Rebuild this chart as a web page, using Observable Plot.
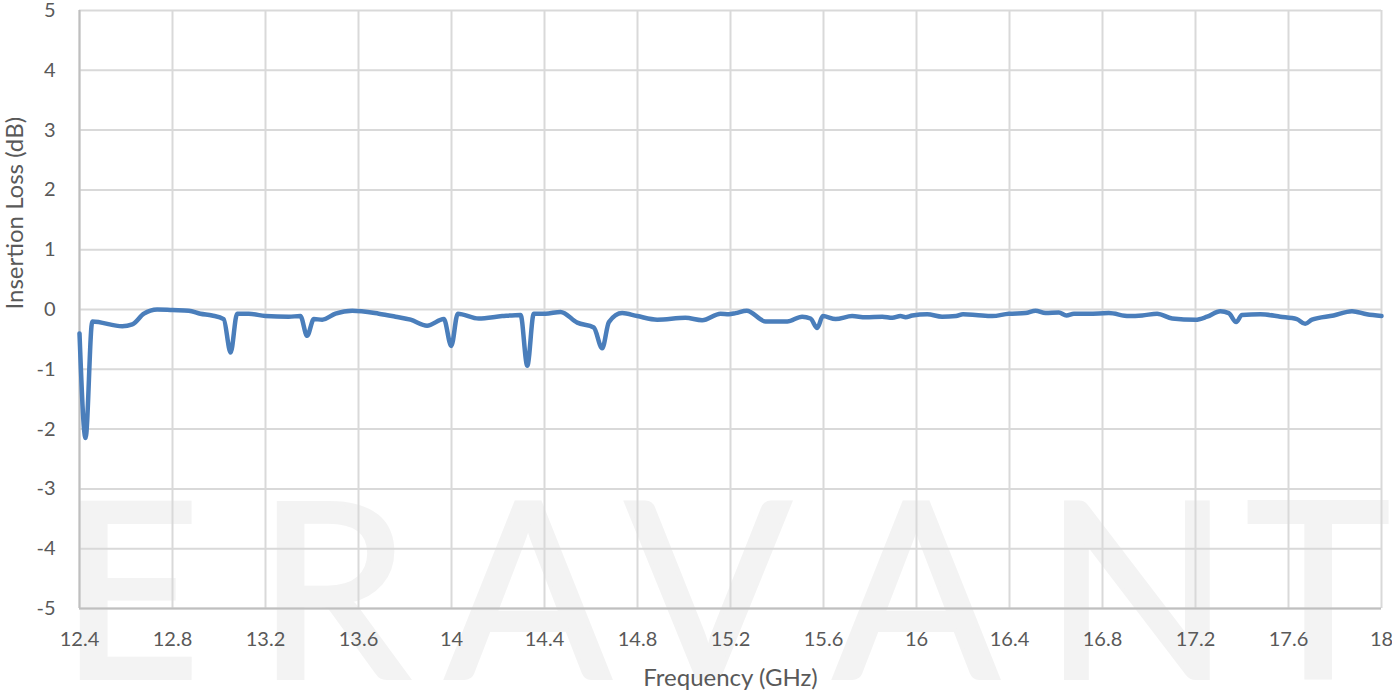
<!DOCTYPE html>
<html>
<head>
<meta charset="utf-8">
<script src="https://cdn.jsdelivr.net/npm/d3@7"></script>
<script src="https://cdn.jsdelivr.net/npm/@observablehq/plot@0.6"></script>
<style>
  html, body { margin: 0; padding: 0; background: #ffffff; }
  #chart { width: 1392px; height: 692px; }
</style>
</head>
<body>
<div id="chart"></div>
<script>
// Frequency (GHz)
const freq = [12.40, 12.426, 12.455, 12.584, 12.627, 12.677, 12.734, 12.80, 12.87, 12.92, 12.97, 13.02, 13.05, 13.078, 13.128,
  13.20, 13.30, 13.35, 13.379, 13.408, 13.444, 13.501, 13.573, 13.687, 13.759, 13.824, 13.895, 13.967, 13.999, 14.027,
  14.117, 14.218, 14.297, 14.326, 14.354, 14.404, 14.469, 14.541, 14.612, 14.648, 14.677, 14.734, 14.799, 14.885, 15.006,
  15.078, 15.157, 15.193, 15.222, 15.27, 15.351, 15.444, 15.508, 15.544, 15.573, 15.597, 15.652, 15.723, 15.781, 15.853,
  15.896, 15.931, 15.953, 15.982, 16.046, 16.11, 16.17, 16.20, 16.254, 16.326, 16.397, 16.469, 16.512, 16.555, 16.612,
  16.645, 16.677, 16.741, 16.827, 16.913, 16.971, 17.035, 17.10, 17.20, 17.25, 17.307, 17.343, 17.375, 17.40, 17.479,
  17.565, 17.636, 17.672, 17.701, 17.794, 17.873, 17.937, 18.00];
// Insertion Loss (dB)
const loss = [-0.40, -2.15, -0.20, -0.28, -0.25, -0.07, 0.00, -0.01, -0.02, -0.07, -0.10, -0.16, -0.72, -0.07, -0.07,
  -0.11, -0.12, -0.11, -0.44, -0.16, -0.17, -0.07, -0.02, -0.07, -0.12, -0.17, -0.27, -0.16, -0.61, -0.07,
  -0.15, -0.11, -0.09, -0.94, -0.07, -0.07, -0.04, -0.22, -0.30, -0.65, -0.21, -0.06, -0.11, -0.17, -0.14,
  -0.18, -0.07, -0.08, -0.06, -0.02, -0.20, -0.20, -0.12, -0.15, -0.31, -0.11, -0.16, -0.11, -0.13, -0.12,
  -0.14, -0.11, -0.13, -0.10, -0.08, -0.12, -0.11, -0.08, -0.09, -0.11, -0.07, -0.06, -0.02, -0.06, -0.05,
  -0.10, -0.07, -0.07, -0.06, -0.11, -0.10, -0.07, -0.15, -0.17, -0.12, -0.03, -0.06, -0.21, -0.09, -0.08,
  -0.12, -0.16, -0.24, -0.17, -0.10, -0.03, -0.08, -0.11];
const xTicks = [12.4, 12.8, 13.2, 13.6, 14, 14.4, 14.8, 15.2, 15.6, 16, 16.4, 16.8, 17.2, 17.6, 18];
const yTicks = [-5, -4, -3, -2, -1, 0, 1, 2, 3, 4, 5];
const xLabel = "Frequency (GHz)";
const yLabel = "Insertion Loss (dB)";
const watermark = ["E", "R", "A", "V", "A", "N", "T"];

const data = freq.map((f, i) => ({f, v: loss[i]}));
const fmt = d => String(+d.toFixed(1));

const chart = Plot.plot({
  width: 1392,
  height: 692,
  marginLeft: 79,
  marginRight: 11,
  marginTop: 10,
  marginBottom: 84,
  style: {fontFamily: "Lato, 'Open Sans', sans-serif", fontSize: "20px", color: "#595959", background: "transparent", overflow: "visible"},
  x: {domain: [12.4, 18]},
  y: {domain: [-5, 5]},
  marks: [
    Plot.gridX(xTicks, {stroke: "#d9d9d9", strokeOpacity: 1, strokeWidth: 2}),
    Plot.gridY(yTicks, {stroke: "#d9d9d9", strokeOpacity: 1, strokeWidth: 2}),
    Plot.ruleX([12.4], {stroke: "#bfbfbf", strokeWidth: 2}),
    Plot.ruleY([-5], {stroke: "#bfbfbf", strokeWidth: 2}),
    Plot.axisX(xTicks, {tickSize: 0, tickPadding: 23, label: null, tickFormat: fmt, fontSize: 20}),
    Plot.axisY(yTicks, {tickSize: 0, tickPadding: 24, label: null, tickFormat: d => String(d), fontSize: 20}),
    Plot.line(data, {x: "f", y: "v", stroke: "#4A7EBB", strokeWidth: 4.5, curve: "monotone-x", strokeLinejoin: "round", strokeLinecap: "round"}),
    Plot.text([xLabel], {frameAnchor: "bottom", dy: 77, text: d => d, fontSize: 24, fill: "#595959"}),
    Plot.text([yLabel], {frameAnchor: "left", dx: -64, rotate: -90, text: d => d, fontSize: 24, fill: "#595959"})
  ]
});
document.getElementById("chart").appendChild(chart);

// faint brand watermark behind the chart
const svg = d3.select(chart);
const centers = [130, 333, 528, 708, 916, 1137, 1318];
const wm = svg.insert("g", "g").attr("fill", "#f3f3f3").attr("stroke", "#f3f3f3").attr("stroke-width", 4)
  .style("font-family", "Lato, sans-serif").style("font-size", "244px").style("font-weight", "400");
wm.selectAll("text").data(watermark).join("text")
  .attr("x", (d, i) => centers[i]).attr("y", 678)
  .attr("text-anchor", "middle").text(d => d);
</script>
</body>
</html>
